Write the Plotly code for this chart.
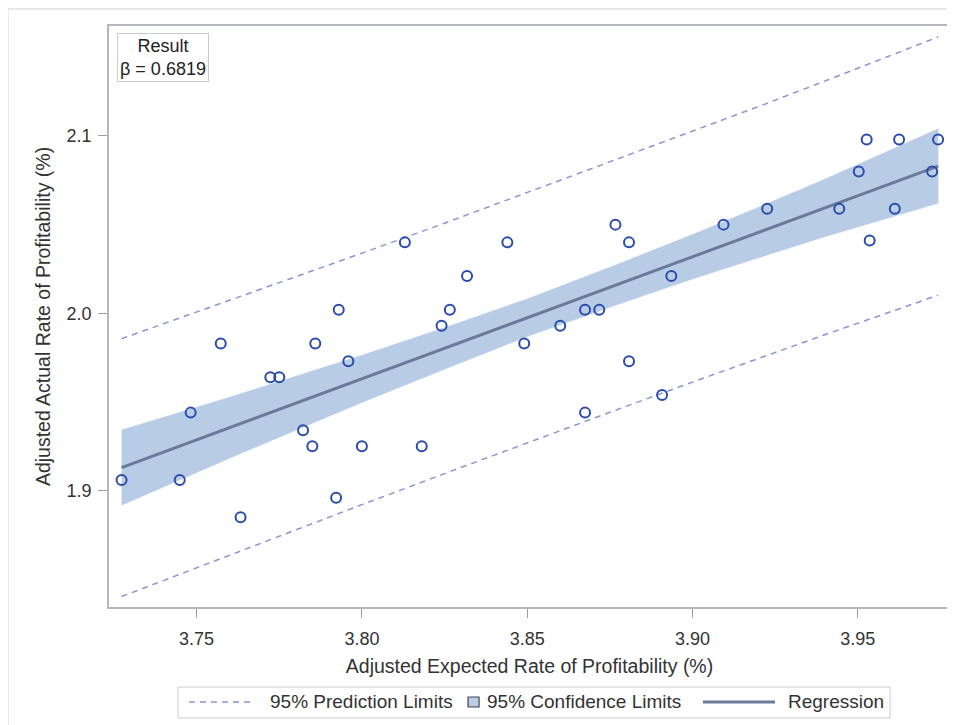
import plotly.graph_objects as go

x_obs = [3.7273, 3.7449, 3.7482, 3.7573, 3.7633, 3.7723, 3.7750, 3.7822, 3.7850, 3.7859,
         3.7930, 3.7922, 3.7959, 3.8000, 3.8130, 3.8181, 3.8241, 3.8266, 3.8318, 3.8440,
         3.8491, 3.8600, 3.8675, 3.8718, 3.8675, 3.8767, 3.8808, 3.8808, 3.8908, 3.8936,
         3.9094, 3.9226, 3.9444, 3.9503, 3.9527, 3.9536, 3.9612, 3.9625, 3.9725, 3.9743]
y_obs = [1.906, 1.906, 1.944, 1.983, 1.885, 1.964, 1.964, 1.934, 1.925, 1.983,
         2.002, 1.896, 1.973, 1.925, 2.040, 1.925, 1.993, 2.002, 2.021, 2.040,
         1.983, 1.993, 2.002, 2.002, 1.944, 2.050, 2.040, 1.973, 1.954, 2.021,
         2.050, 2.059, 2.059, 2.080, 2.098, 2.041, 2.059, 2.098, 2.080, 2.098]

# Fit line and limits read at several x positions
band_x = [3.7273, 3.76, 3.78, 3.80, 3.825, 3.85, 3.875, 3.90, 3.92, 3.94, 3.9743]
reg_y = [1.913, 1.9355, 1.9493, 1.963, 1.9802, 1.9975, 2.0147, 2.0319, 2.0456, 2.0594, 2.083]
ci_half = [0.0212, 0.0172, 0.0152, 0.0133, 0.0117, 0.0106, 0.0113, 0.0125, 0.0142, 0.0162, 0.0210]
pi_half = [0.0727, 0.0717, 0.0712, 0.0709, 0.0706, 0.0705, 0.0705, 0.0707, 0.0710, 0.0715, 0.0728]

beta_text = "Result<br>β = 0.6819"
x_title = "Adjusted Expected Rate of Profitability (%)"
y_title = "Adjusted Actual Rate of Profitability (%)"
x_ticks = [3.75, 3.80, 3.85, 3.90, 3.95]
x_ticklabels = ["3.75", "3.80", "3.85", "3.90", "3.95"]
y_ticks = [1.9, 2.0, 2.1]
y_ticklabels = ["1.9", "2.0", "2.1"]
legend_labels = ["95% Prediction Limits", "95% Confidence Limits", "Regression"]

ci_upper = [r + h for r, h in zip(reg_y, ci_half)]
ci_lower = [r - h for r, h in zip(reg_y, ci_half)]
pi_upper = [r + h for r, h in zip(reg_y, pi_half)]
pi_lower = [r - h for r, h in zip(reg_y, pi_half)]

FONT = "Liberation Sans, Arial, sans-serif"
TXT = "#333333"
PI_COLOR = "#8C94D6"
CI_COLOR = "#B8CCE6"
REG_COLOR = "#6B7A9A"
PT_COLOR = "#2A4BAE"
FRAME = "#B4B8BE"
DASH = "6px,5px"

fig = go.Figure()

fig.add_trace(go.Scatter(
    x=band_x + band_x[::-1], y=ci_upper + ci_lower[::-1],
    fill="toself", fillcolor=CI_COLOR, mode="lines",
    line=dict(color=CI_COLOR, width=0.5),
    name=legend_labels[1], showlegend=False, hoverinfo="skip"))

fig.add_trace(go.Scatter(
    x=band_x, y=pi_upper, mode="lines",
    line=dict(color=PI_COLOR, width=1.5, dash=DASH),
    name=legend_labels[0], showlegend=False))
fig.add_trace(go.Scatter(
    x=band_x, y=pi_lower, mode="lines",
    line=dict(color=PI_COLOR, width=1.5, dash=DASH),
    name=legend_labels[0], showlegend=False))

fig.add_trace(go.Scatter(
    x=band_x, y=reg_y, mode="lines",
    line=dict(color=REG_COLOR, width=3),
    name=legend_labels[2], showlegend=False))

fig.add_trace(go.Scatter(
    x=x_obs, y=y_obs, mode="markers",
    marker=dict(symbol="circle-open", size=10, color=PT_COLOR, line=dict(width=2, color=PT_COLOR)),
    showlegend=False, name="Observed"))

axis_common = dict(
    showgrid=False, zeroline=False, showline=True, mirror=True,
    linecolor=FRAME, linewidth=1.5,
    ticks="outside", ticklen=9, tickcolor="#9A9EA4", tickwidth=1,
    tickfont=dict(family=FONT, size=18, color=TXT),
)

fig.update_layout(
    width=955, height=725,
    margin=dict(l=101, r=13, t=18, b=126),
    paper_bgcolor="white", plot_bgcolor="white",
    font=dict(family=FONT, size=18, color=TXT),
    xaxis=dict(range=[3.7235, 3.9779], tickvals=x_ticks, ticktext=x_ticklabels,
               ticklabelstandoff=6,
               title=dict(text=x_title, font=dict(family=FONT, size=19.5, color=TXT), standoff=11),
               **axis_common),
    yaxis=dict(range=[1.8344, 2.162], tickvals=y_ticks, ticktext=y_ticklabels,
               ticklabelstandoff=3,
               title=dict(text=y_title, font=dict(family=FONT, size=19.5, color=TXT), standoff=11),
               **axis_common),
    showlegend=False,
)

# Inset "Result" box
fig.add_annotation(
    xref="paper", yref="paper", x=0.0095, y=0.988, xanchor="left", yanchor="top",
    text=beta_text, showarrow=False, align="center",
    font=dict(family=FONT, size=18, color="#222222"),
    bordercolor="#C8CCD0", borderwidth=1, borderpad=2, bgcolor="white")

# Custom legend (below the plot)
ly = -0.1635
fig.add_shape(type="rect", xref="paper", yref="paper", x0=0.0820, x1=0.9287, y0=-0.1910, y1=-0.1377,
              line=dict(color="#C8CCD0", width=1), fillcolor="white")
fig.add_shape(type="line", xref="paper", yref="paper", x0=0.0951, x1=0.1724, y0=ly, y1=ly,
              line=dict(color=PI_COLOR, width=1.5, dash=DASH))
fig.add_shape(type="rect", xref="paper", yref="paper", x0=0.4269, x1=0.4400, y0=-0.1721, y1=-0.1549,
              line=dict(color="#444444", width=1.2), fillcolor=CI_COLOR)
fig.add_shape(type="line", xref="paper", yref="paper", x0=0.7063, x1=0.7919, y0=ly, y1=ly,
              line=dict(color=REG_COLOR, width=3))
for xpos, lab in zip([0.1891, 0.4471, 0.8050], legend_labels):
    fig.add_annotation(xref="paper", yref="paper", x=xpos, y=ly, xanchor="left", yanchor="middle",
                       text=lab, showarrow=False, font=dict(family=FONT, size=19, color=TXT))

# Outer frame of the graph
fig.add_shape(type="rect", xref="paper", yref="paper",
              x0=-0.1201, x1=1.0036, y0=-0.3, y1=1.0293,
              line=dict(color="#D0D0D0", width=1), layer="below")

fig.write_html("out.html")
